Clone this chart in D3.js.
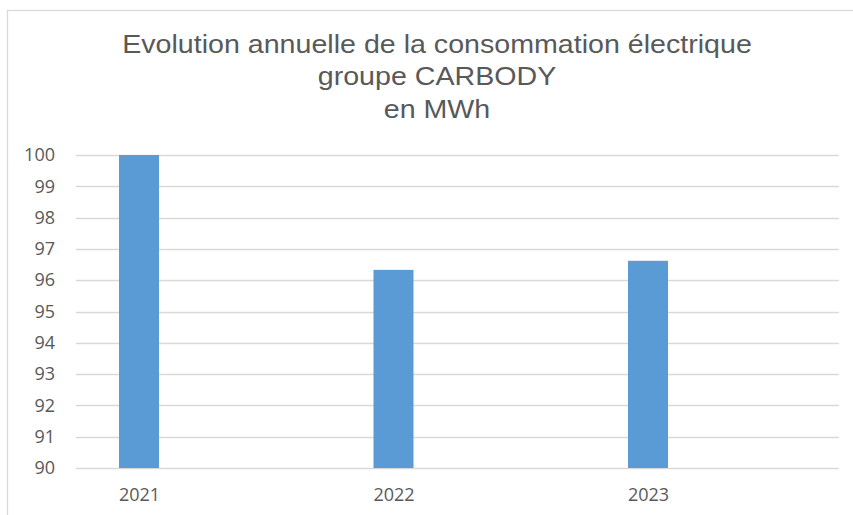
<!DOCTYPE html>
<html>
<head>
<meta charset="utf-8">
<script src="https://cdn.jsdelivr.net/npm/d3@7"></script>
<style>
  html, body { margin: 0; padding: 0; background: #fff; }
  svg { display: block; }
</style>
</head>
<body>
<svg id="chart"></svg>
<script>
// data
const years = ["2021", "2022", "2023"];
const consumption = [100, 96.33, 96.62];
const yTicks = [90, 91, 92, 93, 94, 95, 96, 97, 98, 99, 100];
const titleLines = ["Evolution annuelle de la consommation électrique", "groupe CARBODY", "en MWh"];

const width = 853, height = 515;
const grid = {left: 76, right: 839, top: 155, bottom: 468};

const svg = d3.select("#chart")
    .attr("width", width)
    .attr("height", height);

// chart frame
svg.append("rect")
    .attr("x", 7.5).attr("y", 10.5)
    .attr("width", 900).attr("height", 600)
    .attr("fill", "#fff")
    .attr("stroke", "#d9d9d9")
    .attr("stroke-width", 1.3);

// title (stretched a bit wider, like the reference)
const titleX = 437;
const title = svg.append("g");
title.selectAll("text")
  .data(titleLines)
  .enter().append("text")
    .attr("x", 0)
    .attr("y", (d, i) => 53 + i * 32.5)
    .attr("text-anchor", "middle")
    .style("font-family", "'Liberation Sans', Arial, sans-serif")
    .style("font-size", "26.5px")
    .style("fill", "#595959")
    .text(d => d);
const firstW = title.select("text").node().getComputedTextLength();
const sx = 630 / firstW;
title.attr("transform", "translate(" + titleX + ",0) scale(" + sx + ",1)");

const y = d3.scaleLinear()
    .domain([90, 100])
    .range([grid.bottom, grid.top]);

const x = d3.scalePoint()
    .domain(years)
    .range([139, 648]);

const barWidth = 40;

// gridlines
svg.append("g")
  .selectAll("line")
  .data(yTicks)
  .enter().append("line")
    .attr("x1", grid.left).attr("x2", grid.right)
    .attr("y1", d => Math.round(y(d)) + 0.5)
    .attr("y2", d => Math.round(y(d)) + 0.5)
    .attr("stroke", "#d9d9d9")
    .attr("stroke-width", 1.5);

// y axis labels
const yAxis = d3.axisLeft(y).tickValues(yTicks).tickSize(0).tickPadding(0);
const yg = svg.append("g")
    .attr("transform", "translate(55,0)")
    .call(yAxis);
yg.select(".domain").remove();
yg.selectAll("text")
    .style("font-family", "'Open Sans', 'Liberation Sans', sans-serif")
    .style("font-size", "18px")
    .style("fill", "#595959");

// bars
svg.append("g")
  .selectAll("rect")
  .data(years)
  .enter().append("rect")
    .attr("x", (d) => x(d) - barWidth / 2)
    .attr("y", (d, i) => y(consumption[i]))
    .attr("width", barWidth)
    .attr("height", (d, i) => y(90) - y(consumption[i]))
    .attr("fill", "#5b9bd5");

// x axis labels
const xAxis = d3.axisBottom(x).tickSize(0).tickPadding(0);
const xg = svg.append("g")
    .attr("transform", "translate(0,488)")
    .call(xAxis);
xg.select(".domain").remove();
xg.selectAll("text")
    .style("font-family", "'Open Sans', 'Liberation Sans', sans-serif")
    .style("font-size", "18px")
    .style("fill", "#595959");
</script>
</body>
</html>
